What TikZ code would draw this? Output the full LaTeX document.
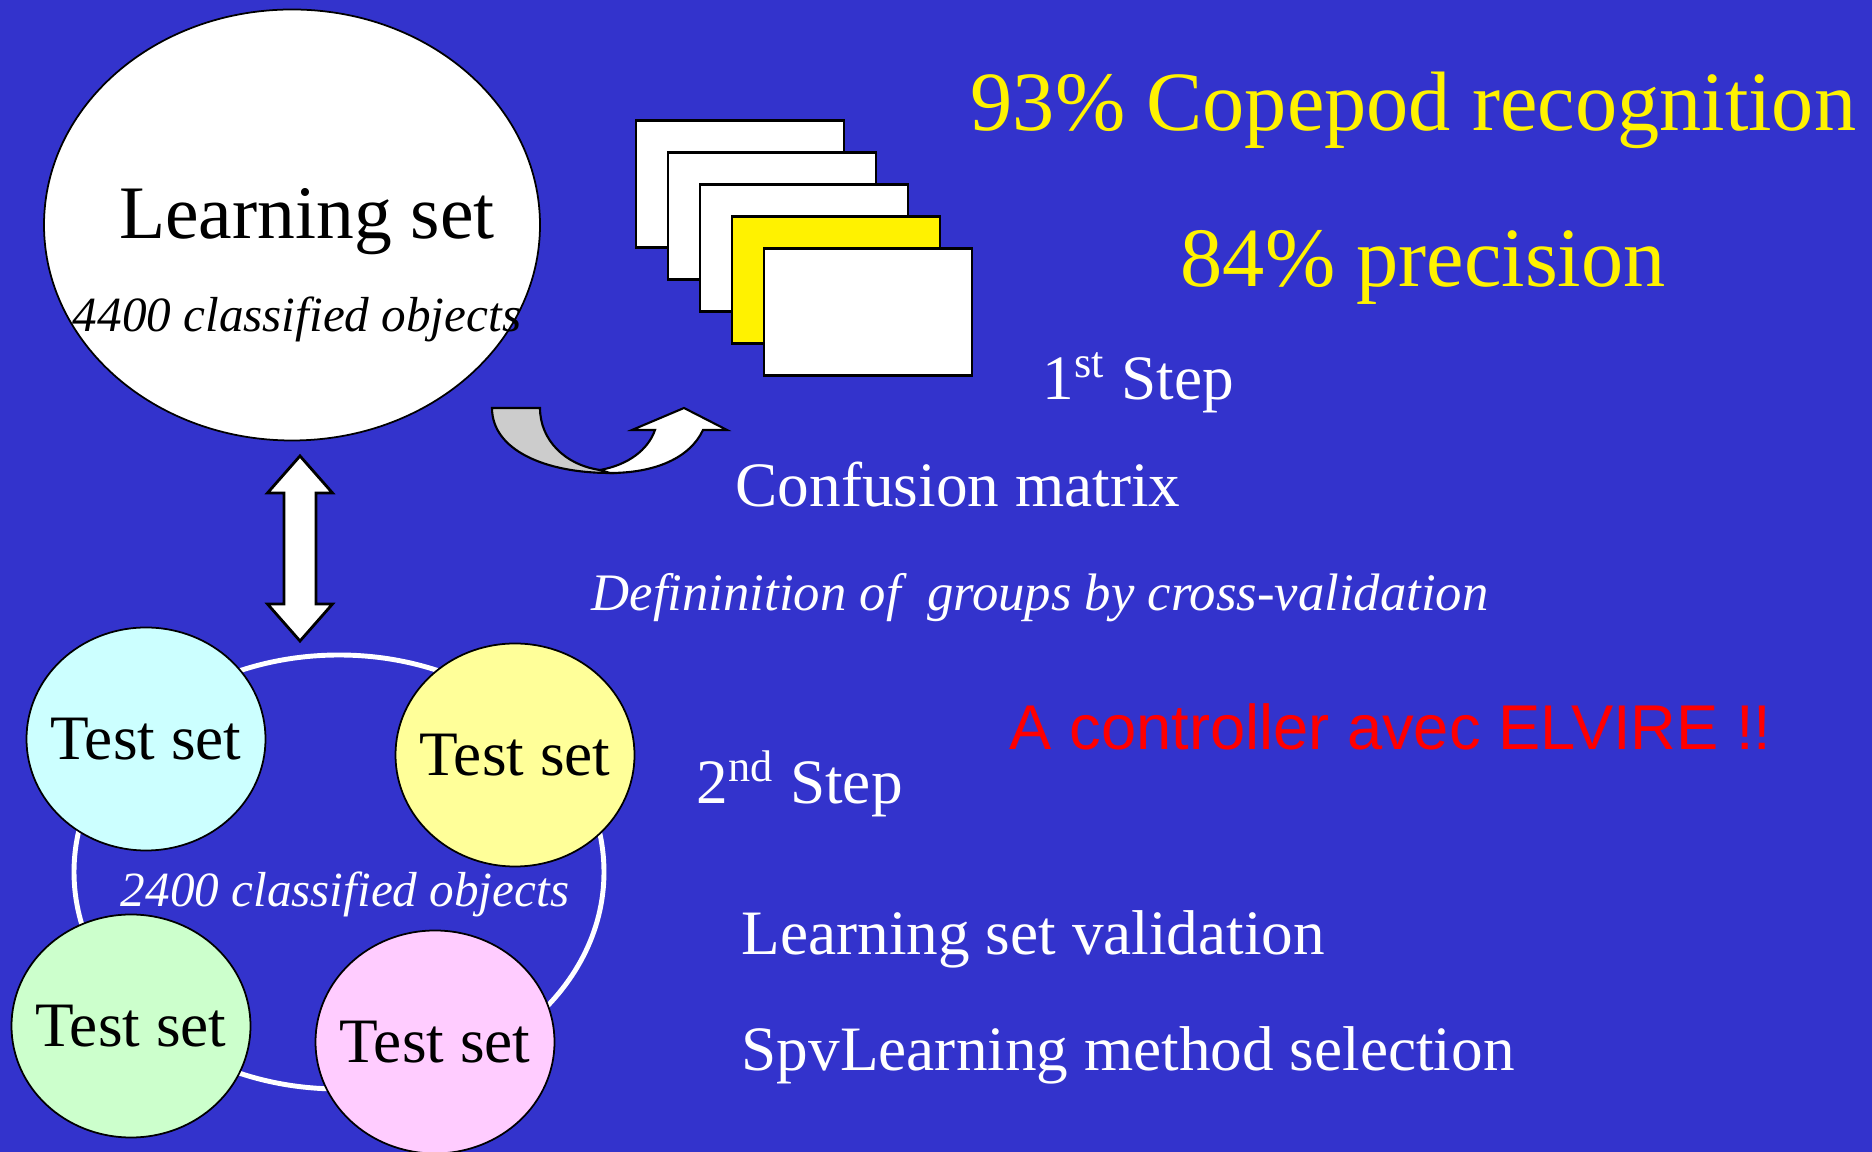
\documentclass[tikz,border=0pt]{standalone}
\usepackage{fontspec}
\setmainfont{Liberation Serif}
\newfontfamily\arialfont{Liberation Sans}
\usepackage{tikz}
\usetikzlibrary{shapes,positioning,calc}

\definecolor{slideblue}{RGB}{51,51,204}
\definecolor{testcyan}{RGB}{204,255,255}
\definecolor{testyellow}{RGB}{255,255,153}
\definecolor{testgreen}{RGB}{204,255,204}
\definecolor{testpink}{RGB}{255,204,255}
\definecolor{arrowgray}{RGB}{204,204,204}

\begin{document}
\begin{tikzpicture}[x=0.1mm,y=-0.1mm,
		card/.style={draw, fill=white, line width=0.6pt,
			minimum width=2.08cm, minimum height=1.27cm, inner sep=0},
		testset/.style={draw, ellipse, line width=0.5pt,
			minimum width=2.39cm, minimum height=2.23cm, inner sep=0},
		testlabel/.style={inner sep=0, font=\fontsize{18}{22}\selectfont},
		slidetext/.style={text=white, inner sep=0, anchor=base west,
			font=\fontsize{18}{22}\selectfont},
		scoretext/.style={text=yellow, inner sep=0, anchor=base west,
			font=\fontsize{24}{28}\selectfont},
		countnote/.style={inner sep=0, anchor=base,
			font=\fontsize{14}{17}\selectfont\itshape}]

		% background
		\fill[slideblue] (0,0) rectangle (1872,1152);
		\useasboundingbox (0,0) rectangle (1872,1152);

		% learning set
		\node[draw,
			ellipse,
			fill=white,
			line width=0.5pt,
			minimum width=4.96cm,
			minimum height=4.31cm,
			inner sep=0
		] (learnset) at (292,225) {};
		\node[inner sep=0, anchor=base,
			font=\fontsize{21.5}{25}\selectfont
		] (learnlabel) at (307,239) {Learning set};
		\node[countnote] (learncount) at (297,332) {4400 classified objects};

		% stack of confusion matrices
		\node[card] (card1) at (740,184) {};
		\node[card] (card2) at ($(card1)+(32,32)$) {};
		\node[card] (card3) at ($(card2)+(32,32)$) {};
		\node[card, fill=yellow] (card4) at ($(card3)+(32,32)$) {};
		\node[card] (card5) at ($(card4)+(32,32)$) {};

		% curved arrow
		\draw[fill=arrowgray, line width=0.6pt]
		(492,408) -- (540,408) .. controls (540,440) and (565,465) .. (600,470)
		-- (610,473) .. controls (545,473) and (492,450) .. (492,408) -- cycle;
		\draw[fill=white, line width=0.6pt, line join=miter]
		(600,470) .. controls (628,465) and (648,450) .. (655,430)
		-- (632,430) -- (684,408) -- (727,430) -- (703,430)
		.. controls (690,458) and (655,473) .. (610,473) -- cycle;

		% test sets
		\node[draw=white,
			ellipse,
			line width=1.4pt,
			minimum width=5.30cm,
			minimum height=4.34cm
		] (ring) at (339,872) {};
		\node[countnote, text=white] (testcount) at (345,907) {2400 classified objects};
		\node[testset, fill=testcyan] (test1) at (146,739) {};
		\node[testset, fill=testyellow] (test2) at (515,755) {};
		\node[testset, fill=testgreen] (test3) at (131,1026) {};
		\node[testset, fill=testpink] (test4) at (435,1042) {};
		\node[testlabel] (label1) at (test1) {Test set};
		\node[testlabel] (label2) at (test2) {Test set};
		\node[testlabel] (label3) at (test3) {Test set};
		\node[testlabel] (label4) at (test4) {Test set};

		% double arrow between the sets
		\coordinate (uptip) at (300,456);
		\coordinate (downtip) at (300,641);
		\draw[fill=white, line width=0.8pt, line join=miter]
		(uptip) -- ++(32.5,37) -- ++(-16.5,0) -- ($(downtip)+(16,-37)$)
		-- ++(16.5,0) -- (downtip) -- ++(-32.5,-37) -- ++(16.5,0)
		-- ($(uptip)+(-16,37)$) -- ++(-16.5,0) -- cycle;

		% results
		\node[scoretext] (recog) at (970,131) {93\% Copepod recognition};
		\node[scoretext] (prec) at (1180,287) {84\% precision};

		\node[slidetext] (step1) at (1042,400) {1\textsuperscript{st} Step};
		\node[slidetext] (confusion) at (735,507) {Confusion matrix};
		\node[slidetext, font=\fontsize{15}{18}\selectfont\itshape
		] (groups) at (591,611) {Defininition of\ \ groups by cross-validation};
		\node[inner sep=0, anchor=base west, text=red,
			font=\fontsize{18}{22}\selectfont\arialfont
		] (elvire) at (1009,750) {A controller avec ELVIRE !!};
		\node[slidetext] (step2) at (696,804) {2\textsuperscript{nd} Step};
		\node[slidetext] (validation) at (741,955) {Learning set validation};
		\node[slidetext] (selection) at (741,1071) {SpvLearning method selection};

	\end{tikzpicture}
\end{document}
